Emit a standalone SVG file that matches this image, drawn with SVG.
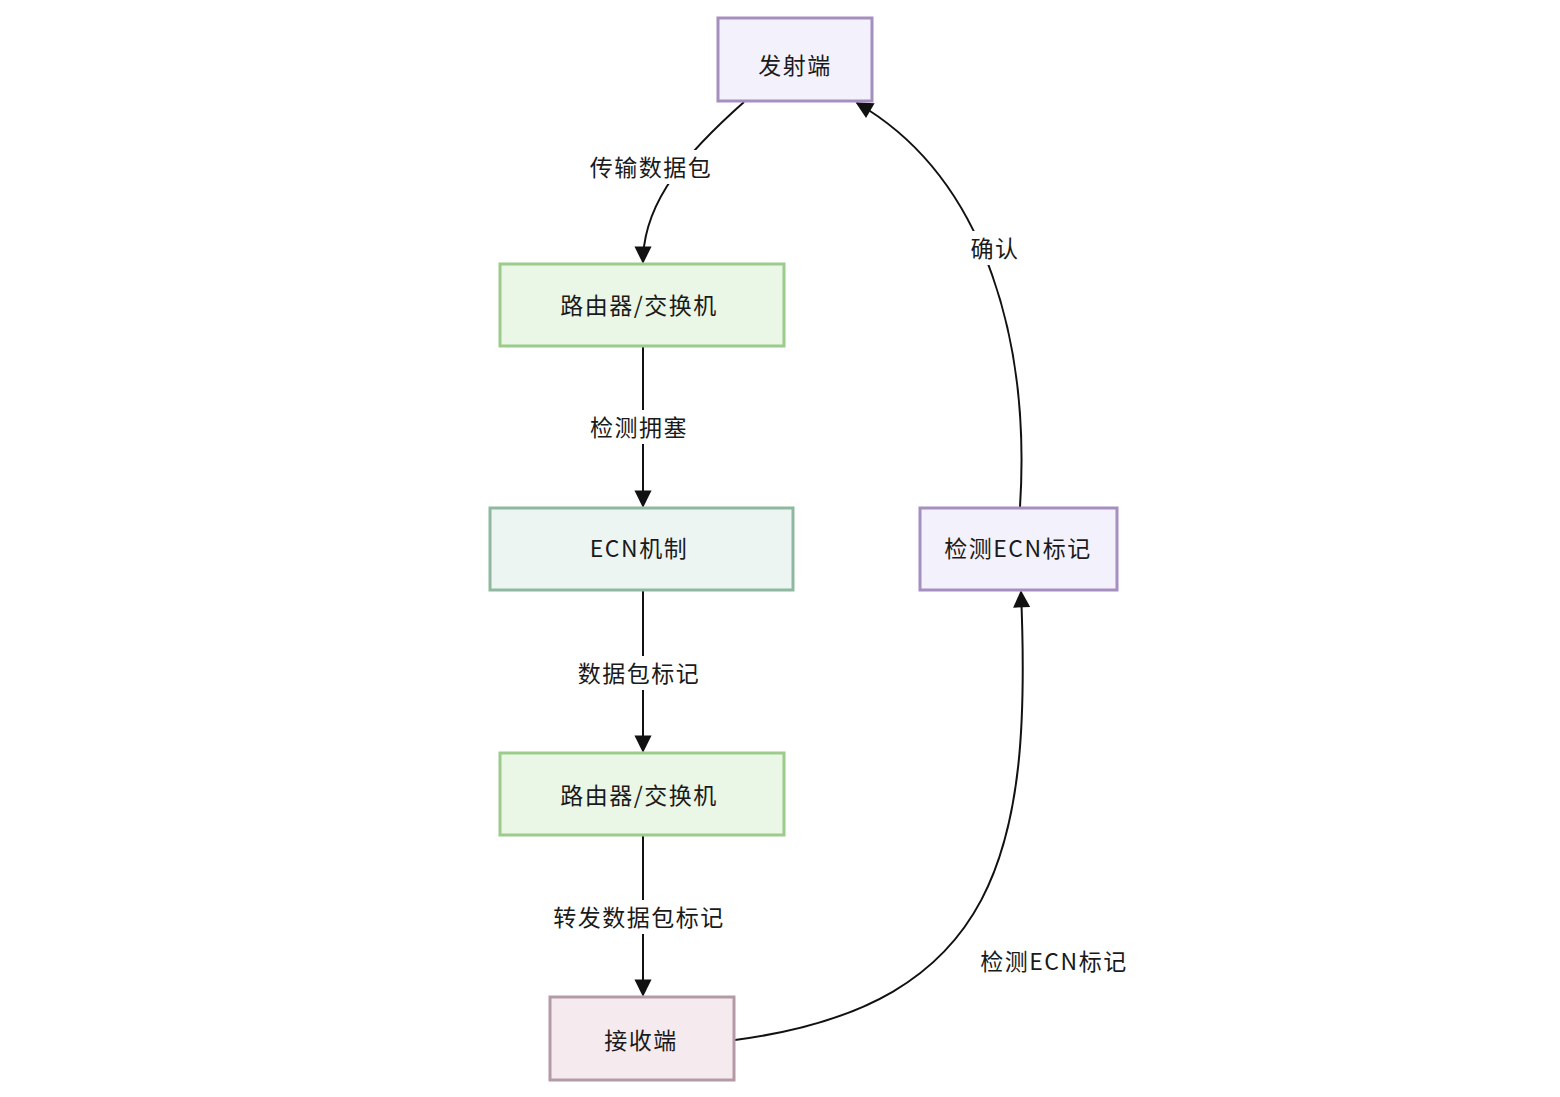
<svg xmlns="http://www.w3.org/2000/svg" width="1560" height="1097" viewBox="0 0 1560 1097">
<style>
.n{stroke-width:3}
.p{fill:#f3f1fb;stroke:#a58fc0}
.g{fill:#eaf6e6;stroke:#9ccc8c}
.t{fill:#edf5f2;stroke:#8fb8a0}
.r{fill:#f5ebef;stroke:#b39aa6}
text{font-family:"Noto Sans CJK SC","Noto Sans",sans-serif;font-size:23px;letter-spacing:1.5px;fill:#1a1a1a;text-anchor:middle;dominant-baseline:central}
.e{fill:none;stroke:#111;stroke-width:2}
.lb{fill:#fff}
</style>
<defs>
<marker id="a" viewBox="0 0 10 10" refX="9" refY="5" markerWidth="9" markerHeight="9" markerUnits="userSpaceOnUse" orient="auto" style="overflow:visible">
<path d="M0,0 L10,5 L0,10 z" fill="#111" transform="scale(1.9)" transform-origin="9 5"/>
</marker>
</defs>
<rect width="1560" height="1097" fill="#fff"/>
<g id="edges">
<path class="e" d="M744,102 C690,150 643,200 643,262" marker-end="url(#a)"/>
<path class="e" d="M643,347 L643,506" marker-end="url(#a)"/>
<path class="e" d="M643,591 L643,751" marker-end="url(#a)"/>
<path class="e" d="M643,836 L643,995" marker-end="url(#a)"/>
<path class="e" d="M735,1040 C1000,1005 1032,850 1021,592" marker-end="url(#a)"/>
<path class="e" d="M1020,507 C1030,350 990,180 857,103" marker-end="url(#a)"/>
<rect class="lb" x="584" y="150" width="132" height="34"/>
<text x="651" y="166">传输数据包</text>
<rect class="lb" x="584" y="410" width="108" height="34"/>
<text x="639" y="426">检测拥塞</text>
<rect class="lb" x="572" y="656" width="132" height="34"/>
<text x="639" y="672">数据包标记</text>
<rect class="lb" x="547" y="900" width="182" height="34"/>
<text x="639" y="916">转发数据包标记</text>
<rect class="lb" x="966" y="231" width="58" height="34"/>
<text x="995" y="247">确认</text>
<text x="1054" y="960">检测ECN标记</text>
</g>
<g id="n1"><rect class="n p" x="718" y="18" width="154" height="83"/><text x="795" y="64">发射端</text></g>
<g id="n2"><rect class="n g" x="500" y="264" width="284" height="82"/><text x="639" y="304">路由器/交换机</text></g>
<g id="n3"><rect class="n t" x="490" y="508" width="303" height="82"/><text x="639" y="547">ECN机制</text></g>
<g id="n4"><rect class="n p" x="920" y="508" width="197" height="82"/><text x="1018" y="547">检测ECN标记</text></g>
<g id="n5"><rect class="n g" x="500" y="753" width="284" height="82"/><text x="639" y="794">路由器/交换机</text></g>
<g id="n6"><rect class="n r" x="550" y="997" width="184" height="83"/><text x="641" y="1039">接收端</text></g>
</svg>
